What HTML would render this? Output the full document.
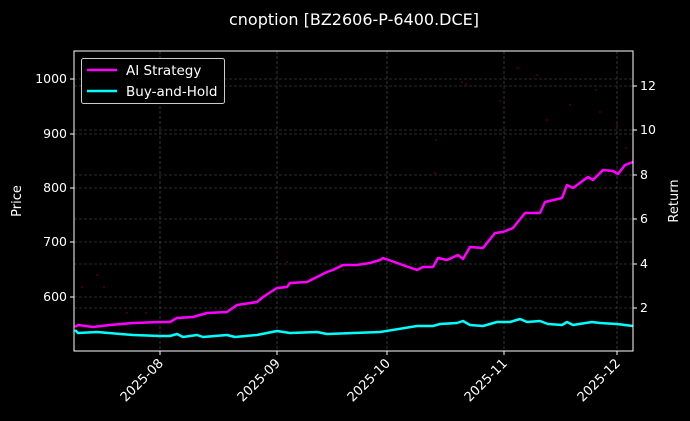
<!DOCTYPE html>
<html><head><meta charset="utf-8"><style>
html,body{margin:0;padding:0;background:#000;}
svg{display:block;font-family:"DejaVu Sans","Liberation Sans",sans-serif;}
</style></head><body>
<svg width="690" height="421" viewBox="0 0 690 421" xmlns="http://www.w3.org/2000/svg">
<rect width="690" height="421" fill="#000"/>
<text x="354" y="25" fill="#fff" font-size="16" text-anchor="middle">cnoption [BZ2606-P-6400.DCE]</text>
<g stroke="#555" stroke-width="0.6" stroke-dasharray="3,2">
<line x1="74" x2="633" y1="79" y2="79"/><line x1="74" x2="633" y1="134" y2="134"/><line x1="74" x2="633" y1="188" y2="188"/><line x1="74" x2="633" y1="242" y2="242"/><line x1="74" x2="633" y1="297" y2="297"/>
<line x1="74" x2="633" y1="86" y2="86"/><line x1="74" x2="633" y1="130" y2="130"/><line x1="74" x2="633" y1="175" y2="175"/><line x1="74" x2="633" y1="219" y2="219"/><line x1="74" x2="633" y1="264" y2="264"/><line x1="74" x2="633" y1="308" y2="308"/>
<line y1="51" y2="351" x1="160" x2="160"/><line y1="51" y2="351" x1="277" x2="277"/><line y1="51" y2="351" x1="387" x2="387"/><line y1="51" y2="351" x1="504" x2="504"/><line y1="51" y2="351" x1="617" x2="617"/>
</g>
<g fill="#5a0000">
<circle cx="82" cy="287" r="1"/><circle cx="97" cy="275" r="1"/><circle cx="104" cy="287" r="1"/><circle cx="127" cy="313" r="1"/><circle cx="146" cy="313" r="1"/><circle cx="277" cy="252" r="1"/><circle cx="287" cy="262" r="1"/><circle cx="312" cy="278" r="1"/><circle cx="343" cy="270" r="1"/><circle cx="420" cy="188" r="1"/><circle cx="435" cy="173" r="1"/><circle cx="462" cy="82" r="1"/><circle cx="466" cy="84" r="1"/><circle cx="500" cy="101" r="1"/><circle cx="518" cy="68" r="1"/><circle cx="537" cy="75" r="1"/><circle cx="547" cy="120" r="1"/><circle cx="570" cy="105" r="1"/><circle cx="596" cy="90" r="1"/><circle cx="600" cy="112" r="1"/><circle cx="617" cy="125" r="1"/><circle cx="626" cy="148" r="1"/><circle cx="436" cy="140" r="1"/><circle cx="505" cy="158" r="1"/>
</g>
<polyline fill="none" stroke="#ff00ff" stroke-width="2.5" stroke-linejoin="round" points="75,327 78,325 93,327 110,325 133,323 160,322 170,322 177,318 193,317 207,313 227,312 237,305 257,302 263,297 277,288 287,287 290,283 307,282 317,277 327,272 333,270 343,265 357,265 370,263 380,260 383,258 417,270 423,267 433,267 438,258 447,260 458,255 463,259 470,247 483,248 495,233 503,232 513,228 525,213 540,213 545,202 562,198 567,185 573,188 588,177 593,180 603,170 613,171 618,174 625,165 633,162"/>
<polyline fill="none" stroke="#00ffff" stroke-width="2.5" stroke-linejoin="round" points="75,330 78,333 97,332 133,335 160,336 170,336 177,334 183,337 197,335 203,337 227,335 235,337 257,335 277,331 290,333 317,332 327,334 380,332 417,326 433,326 440,324 457,323 463,321 470,325 483,326 497,322 510,322 520,319 527,322 540,321 548,324 562,325 567,322 573,325 592,322 600,323 617,324 633,326"/>
<rect x="74" y="51" width="559" height="300" fill="none" stroke="#fff" stroke-width="1"/>
<g stroke="#fff" stroke-width="1">
<line x1="70" x2="74" y1="79" y2="79"/><line x1="70" x2="74" y1="134" y2="134"/><line x1="70" x2="74" y1="188" y2="188"/><line x1="70" x2="74" y1="242" y2="242"/><line x1="70" x2="74" y1="297" y2="297"/>
<line x1="633" x2="637" y1="86" y2="86"/><line x1="633" x2="637" y1="130" y2="130"/><line x1="633" x2="637" y1="175" y2="175"/><line x1="633" x2="637" y1="219" y2="219"/><line x1="633" x2="637" y1="264" y2="264"/><line x1="633" x2="637" y1="308" y2="308"/>
<line y1="351" y2="355" x1="160" x2="160"/><line y1="351" y2="355" x1="277" x2="277"/><line y1="351" y2="355" x1="387" x2="387"/><line y1="351" y2="355" x1="504" x2="504"/><line y1="351" y2="355" x1="617" x2="617"/>
</g>
<g fill="#fff" font-size="12.5" text-anchor="end">
<text x="67" y="83">1000</text><text x="67" y="138">900</text><text x="67" y="192">800</text><text x="67" y="246">700</text><text x="67" y="301">600</text>
</g>
<g fill="#fff" font-size="12.5">
<text x="640" y="90">12</text><text x="640" y="134">10</text><text x="640" y="179">8</text><text x="640" y="223">6</text><text x="640" y="268">4</text><text x="640" y="312">2</text>
</g>
<g fill="#fff" font-size="13" text-anchor="end">
<text transform="translate(164,364) rotate(-45)">2025-08</text>
<text transform="translate(281,364) rotate(-45)">2025-09</text>
<text transform="translate(391,364) rotate(-45)">2025-10</text>
<text transform="translate(508,364) rotate(-45)">2025-11</text>
<text transform="translate(621,364) rotate(-45)">2025-12</text>
</g>
<text transform="translate(21,201) rotate(-90)" fill="#fff" font-size="13" text-anchor="middle">Price</text>
<text transform="translate(678,201) rotate(-90)" fill="#fff" font-size="13" text-anchor="middle">Return</text>
<rect x="81.5" y="58.5" width="143" height="45" rx="2" fill="#000" stroke="#ccc" stroke-width="1"/>
<line x1="87" x2="117" y1="70" y2="70" stroke="#ff00ff" stroke-width="2.5"/>
<line x1="87" x2="117" y1="91" y2="91" stroke="#00ffff" stroke-width="2.5"/>
<text x="126" y="75" fill="#fff" font-size="13.5">AI Strategy</text>
<text x="126" y="96" fill="#fff" font-size="13.5">Buy-and-Hold</text>
</svg>
</body></html>
